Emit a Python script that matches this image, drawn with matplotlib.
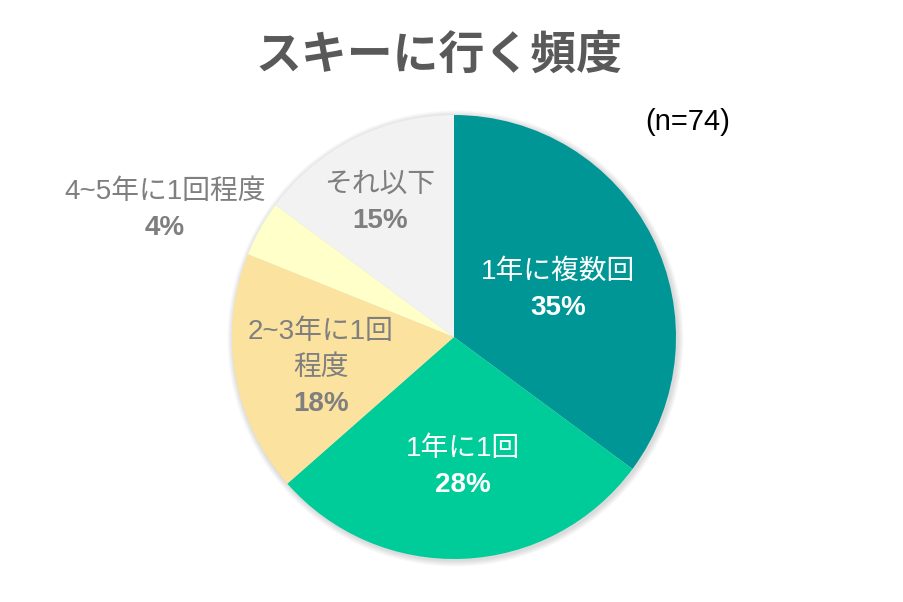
import matplotlib.pyplot as plt
from matplotlib.patches import Circle

plt.rcParams['font.family'] = ['Liberation Sans', 'Noto Sans CJK JP', 'DejaVu Sans']

# data (n=74)
categories = ['1年に複数回', '1年に1回', '2~3年に1回\n程度', '4~5年に1回程度', 'それ以下']
counts = [26, 21, 13, 3, 11]
colors = ['#009696', '#00CC99', '#FBE29E', '#FFFFC9', '#F2F2F2']
label_colors = ['white', 'white', '#7F7F7F', '#7F7F7F', '#7F7F7F']
# label block centres in pixel coords (x, y from top)
label_pos = [(558, 290), (463, 467), (321, 368), (165, 210), (380, 203)]

W, H = 904, 602
fig = plt.figure(figsize=(W / 100, H / 100), dpi=100)
ax = fig.add_axes([0, 0, 1, 1])

cx, cy, r = 454, H - 337, 222

# soft shadow around pie
for i in range(6):
    ax.add_patch(Circle((cx + 1.5, cy - 1.5), r + 1 + i, color='black',
                        alpha=0.025, lw=0, zorder=0))

total = sum(counts)
ax.pie(counts, colors=colors, startangle=90, counterclock=False,
       center=(cx, cy), radius=r, frame=True,
       wedgeprops=dict(linewidth=0, zorder=1))
ax.set_xlim(0, W)
ax.set_ylim(0, H)
ax.set_aspect('equal')
ax.axis('off')

for name, c, col, (x, y) in zip(categories, counts, label_colors, label_pos):
    lines = name.split('\n')
    pct = '%d%%' % round(c / total * 100)
    n = len(lines) + 1
    step = 36
    y0 = y - step * (n - 1) / 2
    for k, ln in enumerate(lines):
        ax.text(x, H - (y0 + k * step), ln, ha='center', va='center',
                fontsize=20, color=col, zorder=5)
    ax.text(x, H - (y0 + len(lines) * step), pct, ha='center', va='center',
            fontsize=20, fontweight='bold', color=col, zorder=5)

ax.text(439, H - 57, 'スキーに行く頻度', ha='center', va='center',
        fontsize=33, fontweight='bold', color='#595959')
ax.text(688, H - 122, '(n=74)', ha='center', va='center',
        fontsize=21, color='black')

fig.savefig('out.png', dpi=100)
